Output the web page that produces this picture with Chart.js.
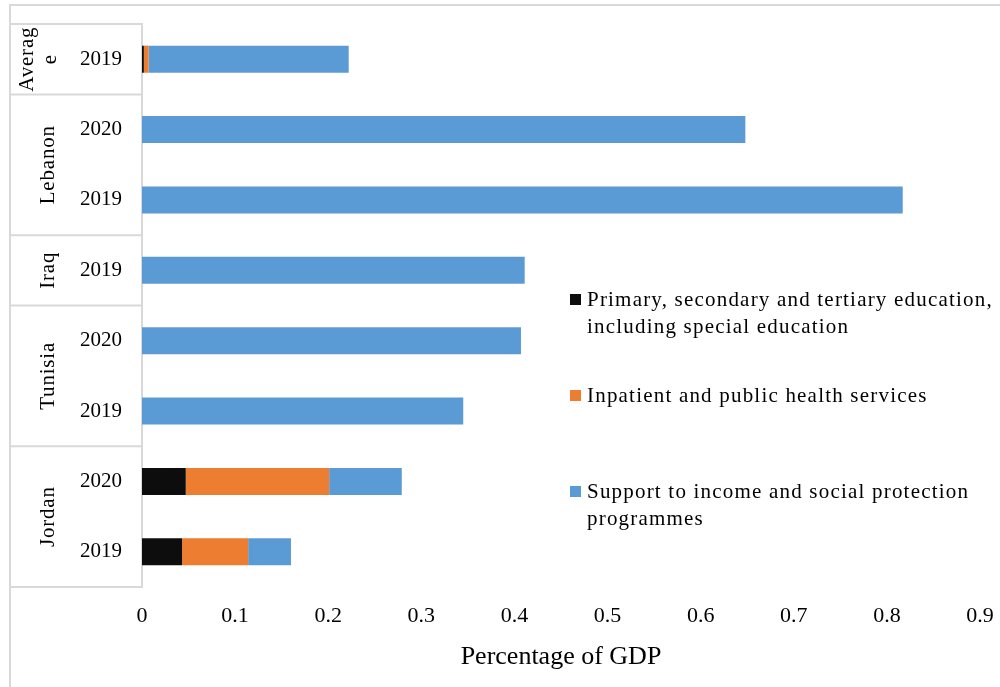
<!DOCTYPE html>
<html>
<head>
<meta charset="utf-8">
<script src="https://cdn.jsdelivr.net/npm/chart.js@4/dist/chart.umd.min.js"></script>
<style>
  html, body { margin: 0; padding: 0; background: #fff; }
  canvas { display: block; }
</style>
</head>
<body>
<canvas id="c" width="1000" height="687"></canvas>
<script>
// Rows, top to bottom
const years = ['2019', '2020', '2019', '2019', '2020', '2019', '2020', '2019'];
const groupLabels = [['Averag', 'e'], ['Lebanon'], ['Iraq'], ['Tunisia'], ['Jordan']];
const groupSizes = [1, 2, 1, 2, 2];

// Spending, percentage of GDP
const education = [0.002, 0, 0, 0, 0, 0, 0.047, 0.043];
const health    = [0.005, 0, 0, 0, 0, 0, 0.154, 0.071];
const income    = [0.215, 0.648, 0.817, 0.411, 0.407, 0.345, 0.078, 0.046];

const seriesNames = [
  'Primary, secondary and tertiary education, including special education',
  'Inpatient and public health services',
  'Support to income and social protection programmes'
];
const seriesColors = ['#0d0d0d', '#ed7d31', '#5b9bd5'];
const axisTitle = 'Percentage of GDP';

const SERIF = '"Liberation Serif", "Times New Roman", serif';
const LINE = '#d9d9d9';

function wrapText(ctx, text, maxWidth) {
  const words = text.split(' ');
  const lines = [];
  let cur = '';
  words.forEach(w => {
    const t = cur ? cur + ' ' + w : w;
    if (cur && ctx.measureText(t).width > maxWidth) { lines.push(cur); cur = w; }
    else cur = t;
  });
  if (cur) lines.push(cur);
  return lines;
}

// Frame, grouped category table and country names, plus the side legend
const tablePlugin = {
  id: 'tableFrame',
  beforeDraw(chart) {
    const { ctx, chartArea: a } = chart;
    const ys = chart.scales.y;
    ctx.save();
    ctx.fillStyle = '#fff';
    ctx.fillRect(0, 0, chart.width, chart.height);
    ctx.strokeStyle = LINE;
    ctx.lineWidth = 2;
    ctx.beginPath();
    ctx.moveTo(10, chart.height);
    ctx.lineTo(10, 5);
    ctx.lineTo(chart.width, 5);
    ctx.stroke();

    const bounds = [a.top];
    let idx = 0;
    groupSizes.forEach(n => {
      idx += n;
      bounds.push(idx < years.length
        ? (ys.getPixelForValue(idx - 1) + ys.getPixelForValue(idx)) / 2
        : a.bottom);
    });
    ctx.beginPath();
    bounds.forEach(b => { ctx.moveTo(10, b); ctx.lineTo(a.left, b); });
    ctx.stroke();

    ctx.fillStyle = '#000';
    ctx.font = '21px ' + SERIF;
    ctx.letterSpacing = '0.8px';
    ctx.textAlign = 'center';
    ctx.textBaseline = 'middle';
    groupLabels.forEach((lines, g) => {
      const cy = (bounds[g] + bounds[g + 1]) / 2;
      lines.forEach((txt, j) => {
        const x = 48 - 21 * (lines.length - 1) + 23 * j;
        ctx.save();
        ctx.translate(x, cy);
        ctx.rotate(-Math.PI / 2);
        ctx.fillText(txt, 0, 0);
        ctx.restore();
      });
    });
    ctx.restore();
  },
  afterDraw(chart) {
    const ctx = chart.ctx;
    ctx.save();
    ctx.font = '21px ' + SERIF;
    ctx.letterSpacing = '1.2px';
    ctx.textAlign = 'left';
    ctx.textBaseline = 'middle';
    chart.data.datasets.forEach((ds, i) => {
      const y0 = 300 + i * 96;
      ctx.fillStyle = ds.backgroundColor;
      ctx.fillRect(570, y0 - 6, 11, 11);
      ctx.fillStyle = '#000';
      wrapText(ctx, ds.label, 412).forEach((l, j) => ctx.fillText(l, 587, y0 + j * 27.5));
    });
    ctx.restore();
  }
};

new Chart(document.getElementById('c'), {
  type: 'bar',
  data: {
    labels: years,
    datasets: [education, health, income].map((d, i) => ({
      label: seriesNames[i],
      data: d,
      backgroundColor: seriesColors[i],
      borderWidth: 0,
      categoryPercentage: 1,
      barPercentage: 0.385
    }))
  },
  options: {
    indexAxis: 'y',
    responsive: false,
    animation: false,
    layout: { padding: { top: 24, right: 20, left: 0, bottom: 0 } },
    plugins: { legend: { display: false }, tooltip: { enabled: false } },
    scales: {
      x: {
        stacked: true,
        min: 0, max: 0.9,
        ticks: { stepSize: 0.1, color: '#000', font: { family: SERIF, size: 22 }, padding: 16, maxRotation: 0 },
        grid: { display: false, drawTicks: false },
        border: { display: false },
        title: { display: true, text: axisTitle, color: '#000', font: { family: SERIF, size: 26 }, padding: { top: 0, bottom: 14 } },
        afterFit(s) { s.height = 100; s.paddingLeft = 0; s.paddingRight = 0; }
      },
      y: {
        stacked: true,
        ticks: { color: '#000', font: { family: SERIF, size: 21 }, padding: 20 },
        grid: { display: false, drawTicks: false },
        border: { display: true, color: LINE, width: 2 },
        afterFit(s) { s.width = 142; s.paddingTop = 0; s.paddingBottom = 0; }
      }
    }
  },
  plugins: [tablePlugin]
});
</script>
</body>
</html>
